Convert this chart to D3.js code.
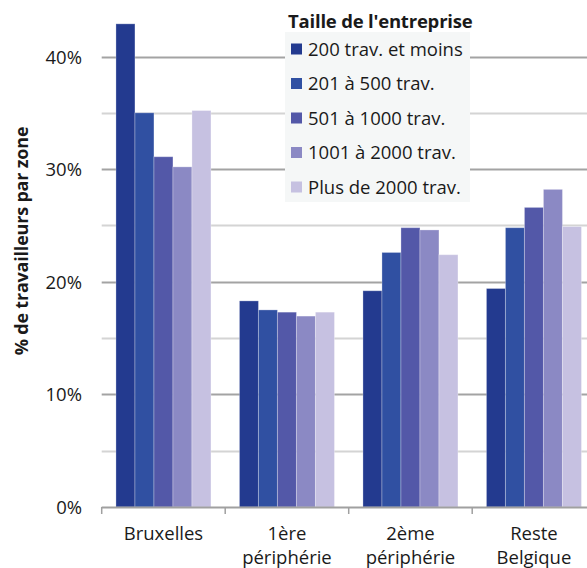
<!DOCTYPE html>
<html>
<head>
<meta charset="utf-8">
<script src="https://cdn.jsdelivr.net/npm/d3@7"></script>
<style>
	body { margin: 0; background: #fff; }
	text { font-family: 'Open Sans', 'Noto Sans', sans-serif; fill: #1a1a1a; }
</style>
</head>
<body>
<div id="chart-area"></div>
<script>
var zones = ['Bruxelles', '1ère périphérie', '2ème périphérie', 'Reste Belgique'];
var zoneLines = [['Bruxelles'], ['1ère', 'périphérie'], ['2ème', 'périphérie'], ['Reste', 'Belgique']];
var sizes = ['200 trav. et moins', '201 à 500 trav.', '501 à 1000 trav.', '1001 à 2000 trav.', 'Plus de 2000 trav.'];
var colors = ['#233a8f', '#3050a2', '#5358a8', '#8b89c4', '#c6c1e1'];

// % de travailleurs, one array per taille d'entreprise (in zone order)
var size200 = [42.9, 18.3, 19.2, 19.4];
var size500 = [35.0, 17.5, 22.6, 24.8];
var size1000 = [31.1, 17.3, 24.8, 26.6];
var size2000 = [30.2, 16.95, 24.6, 28.2];
var sizeMore = [35.2, 17.3, 22.4, 24.9];
var seriesValues = [size200, size500, size1000, size2000, sizeMore];

var yTicks = [0, 10, 20, 30, 40];
var gridTicks = [5, 10, 15, 20, 25, 30, 35, 40];

var W = 587, H = 568;
var svg = d3.select('#chart-area').append('svg')
	.attr('width', W)
	.attr('height', H);

var x = d3.scaleBand().domain(zones).range([101.7, 101.7 + 4 * 123.5]);
var groupW = 95;
var xInner = d3.scaleBand().domain(sizes)
	.range([(x.bandwidth() - groupW) / 2, (x.bandwidth() + groupW) / 2]);
var y = d3.scaleLinear().domain([0, 40]).range([507, 56.5]);

// grid lines
svg.append('g').selectAll('line').data(gridTicks).enter().append('line')
	.attr('x1', 101.7).attr('x2', W)
	.attr('y1', d => Math.round(y(d)) + 0.5).attr('y2', d => Math.round(y(d)) + 0.5)
	.attr('stroke', d => d % 10 == 0 ? '#a3a3a3' : '#d4d4d4')
	.attr('stroke-width', 2);

// bars
var rows = [];
zones.forEach((z, i) => {
	sizes.forEach((s, j) => rows.push({ zone: z, size: s, value: seriesValues[j][i], color: colors[j] }));
});

svg.append('g').selectAll('rect').data(rows).enter().append('rect')
	.attr('x', d => x(d.zone) + xInner(d.size))
	.attr('y', d => y(d.value))
	.attr('width', xInner.bandwidth())
	.attr('height', d => y(0) - y(d.value))
	.attr('fill', d => d.color)
	.attr('stroke', 'rgba(255,255,255,0.28)')
	.attr('stroke-width', 1);

// x axis
var xAxis = svg.append('g');
xAxis.append('line')
	.attr('x1', 101.7).attr('x2', W)
	.attr('y1', 507.5).attr('y2', 507.5)
	.attr('stroke', '#a0a0a0').attr('stroke-width', 2);
xAxis.selectAll('.tick').data(zones).enter().append('line')
	.attr('x1', d => x(d)).attr('x2', d => x(d))
	.attr('y1', 507).attr('y2', 514)
	.attr('stroke', '#a0a0a0').attr('stroke-width', 1.5);

zones.forEach((z, i) => {
	var t = xAxis.append('text')
		.attr('x', x(z) + x.bandwidth() / 2)
		.attr('y', 540)
		.attr('text-anchor', 'middle')
		.attr('font-size', '18.5px');
	zoneLines[i].forEach((line, k) => {
		t.append('tspan')
			.attr('x', x(z) + x.bandwidth() / 2)
			.attr('dy', k == 0 ? 0 : 23.5)
			.text(line);
	});
});

// y labels
svg.append('g').selectAll('text').data(yTicks).enter().append('text')
	.attr('x', 82)
	.attr('y', d => y(d) + 7)
	.attr('text-anchor', 'end')
	.attr('font-size', '18.5px')
	.text(d => d + '%');

svg.append('text')
	.attr('transform', 'translate(28, 241) rotate(-90)')
	.attr('text-anchor', 'middle')
	.attr('font-size', '18px')
	.attr('font-weight', 'bold')
	.attr('letter-spacing', '-0.2px')
	.text('% de travailleurs par zone');

// legend
var legend = svg.append('g');
legend.append('rect')
	.attr('x', 285).attr('y', 32)
	.attr('width', 185).attr('height', 170)
	.attr('fill', '#f5f7f7');
legend.append('text')
	.attr('x', 288).attr('y', 28)
	.attr('font-size', '18.5px')
	.attr('font-weight', 'bold')
	.attr('letter-spacing', '-0.2px')
	.text("Taille de l'entreprise");

sizes.forEach((s, i) => {
	var row = legend.append('g').attr('transform', `translate(291, ${49 + i * 34.5})`);
	row.append('rect')
		.attr('x', 0).attr('y', -5.5)
		.attr('width', 11).attr('height', 11)
		.attr('fill', colors[i]);
	row.append('text')
		.attr('x', 17).attr('y', 6.5)
		.attr('font-size', '18.5px')
		.text(s);
});
</script>
</body>
</html>
